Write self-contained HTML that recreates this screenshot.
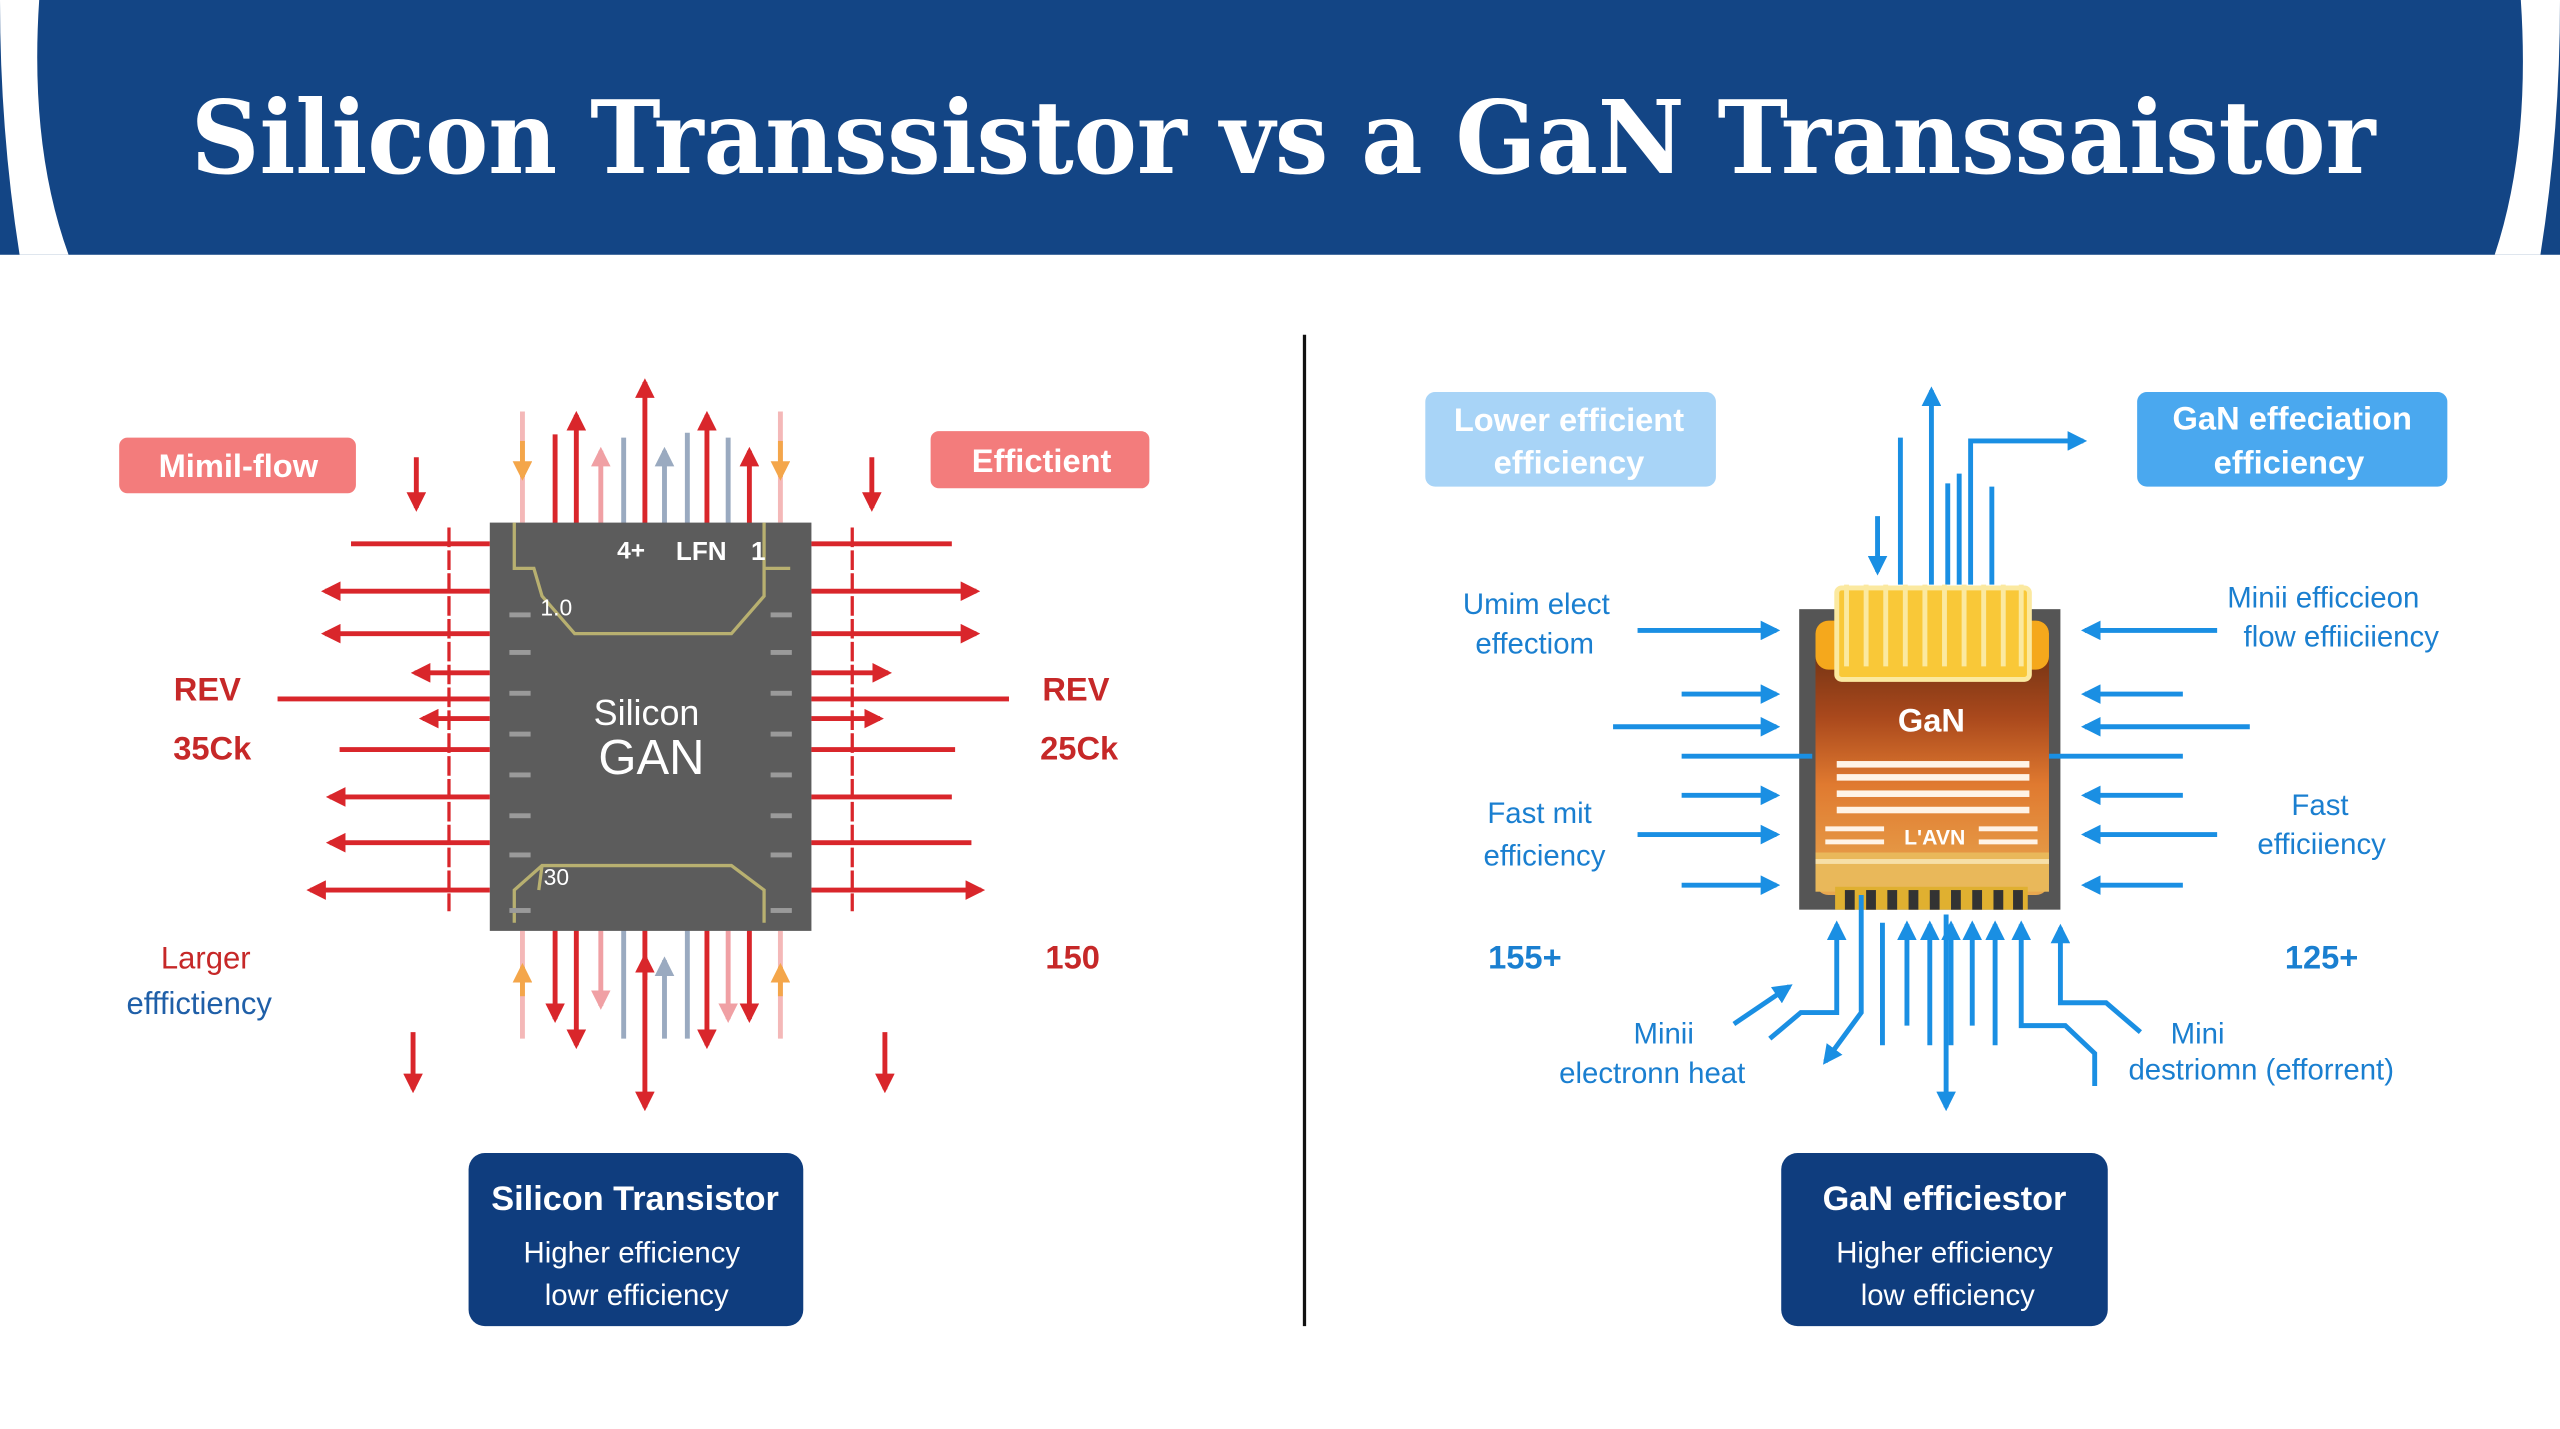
<!DOCTYPE html>
<html><head><meta charset="utf-8"><style>
html,body{margin:0;padding:0;background:#fff}
svg{display:block}
text{font-family:"Liberation Sans","DejaVu Sans",sans-serif}
</style></head><body>
<svg width="2560" height="1429" viewBox="0 0 1568 875" preserveAspectRatio="none" xmlns="http://www.w3.org/2000/svg">
<defs>
<marker id="ar" viewBox="0 0 10 10" refX="8" refY="5" markerWidth="4" markerHeight="4" orient="auto-start-reverse"><path d="M0,0L10,5L0,10z" fill="#d9262b"/></marker>
<marker id="ap" viewBox="0 0 10 10" refX="8" refY="5" markerWidth="4" markerHeight="4" orient="auto-start-reverse"><path d="M0,0L10,5L0,10z" fill="#f0a0a4"/></marker>
<marker id="ao" viewBox="0 0 10 10" refX="8" refY="5" markerWidth="4" markerHeight="4" orient="auto-start-reverse"><path d="M0,0L10,5L0,10z" fill="#f4a64a"/></marker>
<marker id="ag" viewBox="0 0 10 10" refX="8" refY="5" markerWidth="4" markerHeight="4" orient="auto-start-reverse"><path d="M0,0L10,5L0,10z" fill="#9aaac0"/></marker>
<marker id="ab" viewBox="0 0 10 10" refX="8" refY="5" markerWidth="4" markerHeight="4" orient="auto-start-reverse"><path d="M0,0L10,5L0,10z" fill="#1a8fe3"/></marker>
<linearGradient id="gan" x1="0" y1="0" x2="0" y2="1">
<stop offset="0" stop-color="#5a2a10"/><stop offset="0.35" stop-color="#a9481c"/><stop offset="0.6" stop-color="#e07a30"/><stop offset="1" stop-color="#e8a850"/></linearGradient>
</defs>
<!-- header -->
<rect x="0" y="0" width="1568" height="156" fill="#134585"/>
<path d="M0,0 H24 Q18,90 42,156 H12 Q0,80 0,0 Z" fill="#fff"/>
<path d="M1568,0 H1544 Q1550,90 1528,156 H1556 Q1568,80 1568,0 Z" fill="#fff"/>
<text x="786" y="106" text-anchor="middle" font-size="62" font-weight="bold" fill="#fff" style="font-family:'DejaVu Serif','Liberation Serif',serif" textLength="1338" lengthAdjust="spacingAndGlyphs">Silicon Transsistor vs a GaN Transsaistor</text>
<line x1="799" y1="205" x2="799" y2="812" stroke="#111" stroke-width="2"/>

<!-- LEFT -->
<g stroke-width="3">
<line x1="320" y1="320" x2="320" y2="252" stroke="#f4b8b8"/><line x1="320" y1="270" x2="320" y2="292" stroke="#f4a64a" marker-end="url(#ao)"/>
<line x1="340" y1="345" x2="340" y2="266" stroke="#d9262b"/>
<line x1="353" y1="345" x2="353" y2="254" stroke="#d9262b" marker-end="url(#ar)"/>
<line x1="368" y1="330" x2="368" y2="276" stroke="#f0a0a4" marker-end="url(#ap)"/>
<line x1="382" y1="330" x2="382" y2="268" stroke="#9aaac0"/>
<line x1="395" y1="345" x2="395" y2="234" stroke="#d9262b" marker-end="url(#ar)"/>
<line x1="407" y1="330" x2="407" y2="276" stroke="#9aaac0" marker-end="url(#ag)"/>
<line x1="421" y1="330" x2="421" y2="265" stroke="#9aaac0"/>
<line x1="433" y1="345" x2="433" y2="254" stroke="#d9262b" marker-end="url(#ar)"/>
<line x1="446" y1="330" x2="446" y2="268" stroke="#9aaac0"/>
<line x1="459" y1="345" x2="459" y2="276" stroke="#d9262b" marker-end="url(#ar)"/>
<line x1="478" y1="320" x2="478" y2="252" stroke="#f4b8b8"/><line x1="478" y1="270" x2="478" y2="292" stroke="#f4a64a" marker-end="url(#ao)"/>
<line x1="320" y1="570" x2="320" y2="636" stroke="#f4b8b8"/><line x1="320" y1="610" x2="320" y2="592" stroke="#f4a64a" marker-end="url(#ao)"/>
<line x1="340" y1="545" x2="340" y2="624" stroke="#d9262b" marker-end="url(#ar)"/>
<line x1="353" y1="545" x2="353" y2="640" stroke="#d9262b" marker-end="url(#ar)"/>
<line x1="368" y1="560" x2="368" y2="616" stroke="#f0a0a4" marker-end="url(#ap)"/>
<line x1="382" y1="560" x2="382" y2="636" stroke="#9aaac0"/>
<line x1="395" y1="545" x2="395" y2="678" stroke="#d9262b" marker-end="url(#ar)"/>
<line x1="395" y1="600" x2="395" y2="586" stroke="#d9262b" marker-end="url(#ar)"/>
<line x1="407" y1="636" x2="407" y2="588" stroke="#9aaac0" marker-end="url(#ag)"/>
<line x1="421" y1="560" x2="421" y2="636" stroke="#9aaac0"/>
<line x1="433" y1="545" x2="433" y2="640" stroke="#d9262b" marker-end="url(#ar)"/>
<line x1="446" y1="560" x2="446" y2="624" stroke="#f0a0a4" marker-end="url(#ap)"/>
<line x1="459" y1="545" x2="459" y2="624" stroke="#d9262b" marker-end="url(#ar)"/>
<line x1="478" y1="570" x2="478" y2="636" stroke="#f4b8b8"/><line x1="478" y1="610" x2="478" y2="592" stroke="#f4a64a" marker-end="url(#ao)"/>
</g>
<rect x="300" y="320" width="197" height="250" fill="#5c5c5c"/>
<g fill="none" stroke="#b8b070" stroke-width="2">
<path d="M315,320 V348 H327 L332,365 L352,388 H448 L468,365 V348 H484 M468,320 V348"/>
<path d="M315,565 V545 L332,530 H448 L468,545 V565 M330,545 L332,530"/>
</g>
<g fill="#9a9a9a">
<rect x="312" y="375" width="13" height="3"/><rect x="312" y="398" width="13" height="3"/><rect x="312" y="423" width="13" height="3"/><rect x="312" y="448" width="13" height="3"/><rect x="312" y="473" width="13" height="3"/><rect x="312" y="498" width="13" height="3"/><rect x="312" y="522" width="13" height="3"/><rect x="312" y="556" width="13" height="3"/>
<rect x="472" y="375" width="13" height="3"/><rect x="472" y="398" width="13" height="3"/><rect x="472" y="423" width="13" height="3"/><rect x="472" y="448" width="13" height="3"/><rect x="472" y="473" width="13" height="3"/><rect x="472" y="498" width="13" height="3"/><rect x="472" y="522" width="13" height="3"/><rect x="472" y="556" width="13" height="3"/>
</g>
<text x="396" y="444" text-anchor="middle" font-size="22" fill="#fff">Silicon</text>
<text x="399" y="474" text-anchor="middle" font-size="30" fill="#fff">GAN</text>
<text x="378" y="342" font-size="15" fill="#fff" font-weight="bold">4+</text>
<text x="414" y="343" font-size="16" fill="#fff" font-weight="bold">LFN</text>
<text x="460" y="343" font-size="16" fill="#fff" font-weight="bold">1</text>
<text x="331" y="377" font-size="14" fill="#fff">1.0</text>
<text x="333" y="542" font-size="14" fill="#fff">30</text>
<g stroke="#d9262b" stroke-width="3">
<line x1="275" y1="323" x2="275" y2="558" stroke-width="2" stroke-dasharray="12,2"/>
<line x1="522" y1="323" x2="522" y2="558" stroke-width="2" stroke-dasharray="12,2"/>
<line x1="215" y1="333" x2="300" y2="333"/>
<line x1="300" y1="362" x2="199" y2="362" marker-end="url(#ar)"/>
<line x1="300" y1="388" x2="199" y2="388" marker-end="url(#ar)"/>
<line x1="300" y1="412" x2="254" y2="412" marker-end="url(#ar)"/>
<line x1="170" y1="428" x2="300" y2="428"/>
<line x1="300" y1="440" x2="259" y2="440" marker-end="url(#ar)"/>
<line x1="208" y1="459" x2="300" y2="459"/>
<line x1="300" y1="488" x2="202" y2="488" marker-end="url(#ar)"/>
<line x1="300" y1="516" x2="202" y2="516" marker-end="url(#ar)"/>
<line x1="300" y1="545" x2="190" y2="545" marker-end="url(#ar)"/>
<line x1="497" y1="333" x2="583" y2="333"/>
<line x1="497" y1="362" x2="598" y2="362" marker-end="url(#ar)"/>
<line x1="497" y1="388" x2="598" y2="388" marker-end="url(#ar)"/>
<line x1="497" y1="412" x2="544" y2="412" marker-end="url(#ar)"/>
<line x1="497" y1="428" x2="618" y2="428"/>
<line x1="497" y1="440" x2="539" y2="440" marker-end="url(#ar)"/>
<line x1="497" y1="459" x2="585" y2="459"/>
<line x1="497" y1="488" x2="583" y2="488"/>
<line x1="497" y1="516" x2="595" y2="516"/>
<line x1="497" y1="545" x2="601" y2="545" marker-end="url(#ar)"/>
<line x1="255" y1="280" x2="255" y2="311" marker-end="url(#ar)"/>
<line x1="534" y1="280" x2="534" y2="311" marker-end="url(#ar)"/>
<line x1="253" y1="632" x2="253" y2="667" marker-end="url(#ar)"/>
<line x1="542" y1="632" x2="542" y2="667" marker-end="url(#ar)"/>
</g>
<rect x="73" y="268" width="145" height="34" rx="5" fill="#f37c7c"/>
<text x="146" y="292" text-anchor="middle" font-size="20" font-weight="bold" fill="#fff">Mimil-flow</text>
<rect x="570" y="264" width="134" height="35" rx="5" fill="#f37c7c"/>
<text x="638" y="289" text-anchor="middle" font-size="20" font-weight="bold" fill="#fff">Effictient</text>
<g font-size="20" font-weight="bold" fill="#c62828" text-anchor="middle">
<text x="127" y="429">REV</text><text x="130" y="465">35Ck</text>
<text x="659" y="429">REV</text><text x="661" y="465">25Ck</text>
<text x="657" y="593">150</text>
</g>
<text x="126" y="593" text-anchor="middle" font-size="19" fill="#c62828">Larger</text>
<text x="122" y="621" text-anchor="middle" font-size="19" fill="#1f5fa8">efffictiency</text>
<rect x="287" y="706" width="205" height="106" rx="10" fill="#0f3d7e"/>
<text x="389" y="741" text-anchor="middle" font-size="21" font-weight="bold" fill="#fff">Silicon Transistor</text>
<text x="387" y="773" text-anchor="middle" font-size="18" fill="#fff">Higher efficiency</text>
<text x="390" y="799" text-anchor="middle" font-size="18" fill="#fff">lowr efficiency</text>

<!-- RIGHT -->
<rect x="873" y="240" width="178" height="58" rx="6" fill="#a8d4f7"/>
<text x="961" y="264" text-anchor="middle" font-size="20" font-weight="bold" fill="#fff">Lower efficient</text>
<text x="961" y="290" text-anchor="middle" font-size="20" font-weight="bold" fill="#fff">efficiency</text>
<rect x="1309" y="240" width="190" height="58" rx="6" fill="#4aa8ef"/>
<text x="1404" y="263" text-anchor="middle" font-size="20" font-weight="bold" fill="#fff">GaN effeciation</text>
<text x="1402" y="290" text-anchor="middle" font-size="20" font-weight="bold" fill="#fff">efficiency</text>
<g stroke="#1a8fe3" stroke-width="3" fill="none">
<line x1="1150" y1="316" x2="1150" y2="350" marker-end="url(#ab)"/>
<line x1="1164" y1="358" x2="1164" y2="268"/>
<line x1="1183" y1="358" x2="1183" y2="239" marker-end="url(#ab)"/>
<line x1="1193" y1="358" x2="1193" y2="296"/>
<line x1="1200" y1="358" x2="1200" y2="290"/>
<path d="M1207,358 V270 H1276" marker-end="url(#ab)"/>
<line x1="1220" y1="358" x2="1220" y2="298"/>
</g>
<rect x="1102" y="373" width="160" height="184" fill="#555"/>
<rect x="1112" y="380" width="143" height="168" rx="8" fill="url(#gan)"/>
<rect x="1112" y="380" width="143" height="30" rx="8" fill="#f5a81c"/>
<rect x="1125" y="360" width="118" height="56" rx="3" fill="#f9c838" stroke="#fbe9a0" stroke-width="3"/>
<g stroke="#fbe9a0" stroke-width="3">
<line x1="1131" y1="358" x2="1131" y2="408"/><line x1="1143" y1="358" x2="1143" y2="408"/><line x1="1155" y1="358" x2="1155" y2="408"/><line x1="1167" y1="358" x2="1167" y2="408"/><line x1="1179" y1="358" x2="1179" y2="408"/><line x1="1191" y1="358" x2="1191" y2="408"/><line x1="1203" y1="358" x2="1203" y2="408"/><line x1="1215" y1="358" x2="1215" y2="408"/><line x1="1227" y1="358" x2="1227" y2="408"/><line x1="1238" y1="358" x2="1238" y2="408"/>
</g>
<g fill="#fff3e6">
<rect x="1125" y="466" width="118" height="4"/><rect x="1125" y="474" width="118" height="4"/><rect x="1125" y="484" width="118" height="4"/><rect x="1125" y="494" width="118" height="4"/>
<rect x="1118" y="506" width="36" height="3"/><rect x="1212" y="506" width="36" height="3"/><rect x="1118" y="514" width="36" height="3"/><rect x="1212" y="514" width="36" height="3"/>
</g>
<rect x="1112" y="522" width="143" height="24" fill="#e9b85a"/>
<rect x="1112" y="526" width="143" height="3" fill="#f6dfa8"/>
<rect x="1124" y="543" width="118" height="14" fill="#e0b030"/>
<g fill="#333"><rect x="1130" y="545" width="6" height="12"/><rect x="1143" y="545" width="6" height="12"/><rect x="1156" y="545" width="6" height="12"/><rect x="1169" y="545" width="6" height="12"/><rect x="1182" y="545" width="6" height="12"/><rect x="1195" y="545" width="6" height="12"/><rect x="1208" y="545" width="6" height="12"/><rect x="1221" y="545" width="6" height="12"/><rect x="1233" y="545" width="6" height="12"/></g>
<text x="1183" y="448" text-anchor="middle" font-size="20" font-weight="bold" fill="#fff">GaN</text>
<text x="1185" y="517" text-anchor="middle" font-size="13" font-weight="bold" fill="#fff">L'AVN</text>
<g stroke="#1a8fe3" stroke-width="3" fill="none">
<line x1="1003" y1="386" x2="1088" y2="386" marker-end="url(#ab)"/>
<line x1="1030" y1="425" x2="1088" y2="425" marker-end="url(#ab)"/>
<line x1="988" y1="445" x2="1088" y2="445" marker-end="url(#ab)"/>
<line x1="1030" y1="463" x2="1110" y2="463"/>
<line x1="1030" y1="487" x2="1088" y2="487" marker-end="url(#ab)"/>
<line x1="1003" y1="511" x2="1088" y2="511" marker-end="url(#ab)"/>
<line x1="1030" y1="542" x2="1088" y2="542" marker-end="url(#ab)"/>
<line x1="1358" y1="386" x2="1277" y2="386" marker-end="url(#ab)"/>
<line x1="1337" y1="425" x2="1277" y2="425" marker-end="url(#ab)"/>
<line x1="1378" y1="445" x2="1277" y2="445" marker-end="url(#ab)"/>
<line x1="1255" y1="463" x2="1337" y2="463"/>
<line x1="1337" y1="487" x2="1277" y2="487" marker-end="url(#ab)"/>
<line x1="1358" y1="511" x2="1277" y2="511" marker-end="url(#ab)"/>
<line x1="1337" y1="542" x2="1277" y2="542" marker-end="url(#ab)"/>
<path d="M1084,636 L1103,620 H1125 V566" marker-end="url(#ab)"/>
<path d="M1140,548 V620 L1118,650" marker-end="url(#ab)"/>
<line x1="1062" y1="627" x2="1096" y2="604" marker-end="url(#ab)"/>
<line x1="1153" y1="565" x2="1153" y2="640"/>
<line x1="1168" y1="628" x2="1168" y2="566" marker-end="url(#ab)"/>
<line x1="1182" y1="640" x2="1182" y2="566" marker-end="url(#ab)"/>
<line x1="1192" y1="560" x2="1192" y2="678" marker-end="url(#ab)"/>
<line x1="1195" y1="640" x2="1195" y2="566" marker-end="url(#ab)"/>
<line x1="1208" y1="628" x2="1208" y2="566" marker-end="url(#ab)"/>
<line x1="1222" y1="640" x2="1222" y2="566" marker-end="url(#ab)"/>
<path d="M1283,665 V645 L1265,628 H1238 V566" marker-end="url(#ab)"/>
<path d="M1311,632 L1290,614 H1262 V568" marker-end="url(#ab)"/>
</g>
<g font-size="18" fill="#1a7fd0" text-anchor="middle">
<text x="941" y="376">Umim elect</text><text x="940" y="400">effectiom</text>
<text x="1423" y="372">Minii efficcieon</text><text x="1434" y="396">flow effiiciiency</text>
<text x="943" y="504">Fast mit</text><text x="946" y="530">efficiency</text>
<text x="1421" y="499">Fast</text><text x="1422" y="523">efficiiency</text>
<text x="1019" y="639">Minii</text><text x="1012" y="663">electronn heat</text>
<text x="1346" y="639">Mini</text><text x="1385" y="661">destriomn (efforrent)</text>
</g>
<g font-size="20" font-weight="bold" fill="#1a7fd0" text-anchor="middle">
<text x="934" y="593">155+</text><text x="1422" y="593">125+</text>
</g>
<rect x="1091" y="706" width="200" height="106" rx="10" fill="#0f3d7e"/>
<text x="1191" y="741" text-anchor="middle" font-size="21" font-weight="bold" fill="#fff">GaN efficiestor</text>
<text x="1191" y="773" text-anchor="middle" font-size="18" fill="#fff">Higher efficiency</text>
<text x="1193" y="799" text-anchor="middle" font-size="18" fill="#fff">low efficiency</text>
</svg>
</body></html>
